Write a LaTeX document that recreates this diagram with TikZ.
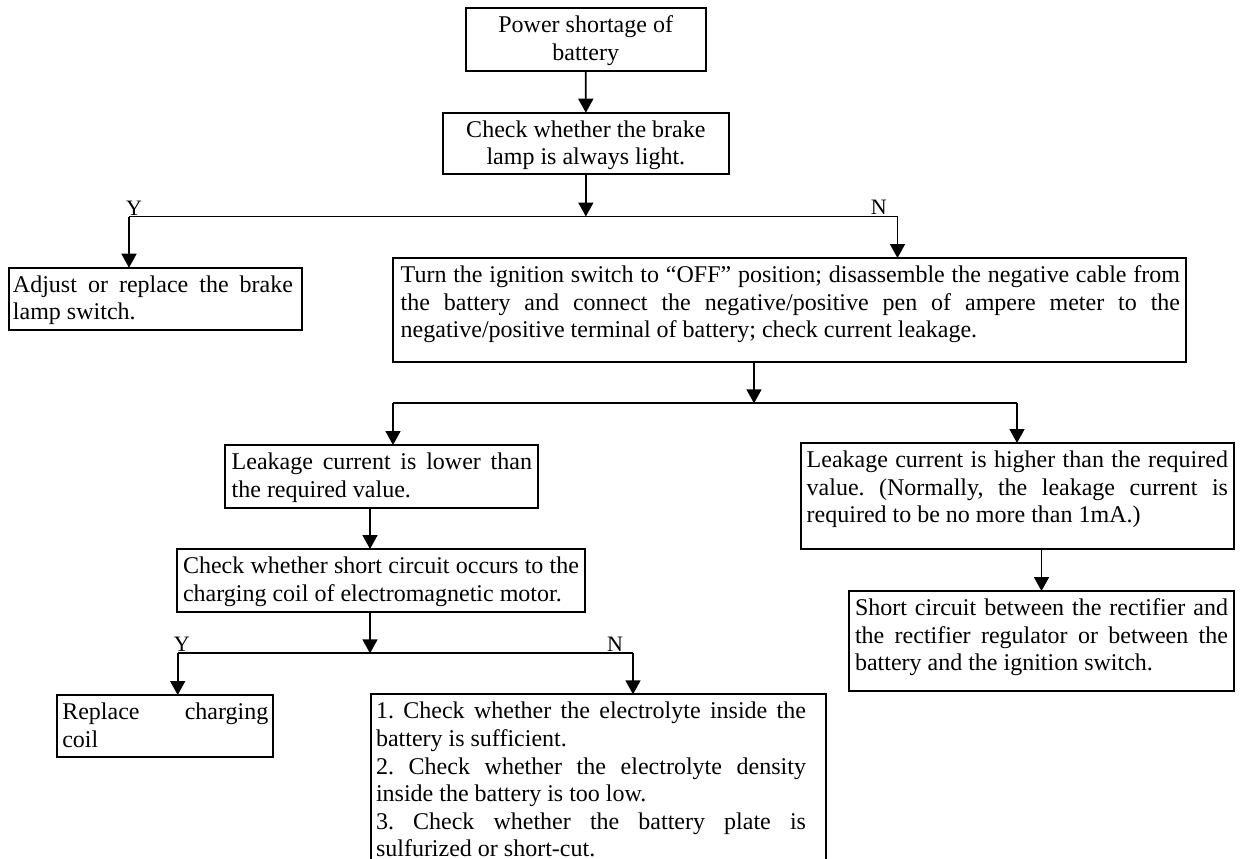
\documentclass[tikz,border=0pt]{standalone}
\usepackage{fontspec}
\setmainfont{Liberation Serif}
\usetikzlibrary{arrows.meta}
\frenchspacing
\newcommand\jl[1]{\hbox to\linewidth{\strut #1}}
\newcommand\nl[1]{\hbox{\strut #1}}
\newcommand\cl[1]{\hbox to\linewidth{\hss\strut #1\hss}}
\newcommand\bx[5]{\hbox to #1{\hskip #3\parbox[c][#2][t]{\dimexpr #1-#3-#4\relax}{\frenchspacing\vspace*{5.2pt}#5}\hss}}
\tikzset{
  bxs/.style={draw, line width=1.8pt, inner sep=0pt, outer sep=0pt, anchor=north west,
    font=\fontsize{24}{27.6}\selectfont},
  arr/.style={line width=1.7pt, -{Triangle[width=15pt,length=14pt]}},
  ln/.style={line width=1.7pt},
  lab/.style={anchor=base, inner sep=0pt, font=\fontsize{22}{26}\selectfont}
}
\begin{document}
\begin{tikzpicture}[x=1pt,y=-1pt]
\useasboundingbox (0,0) rectangle (1242,859);
\clip (0,0) rectangle (1242,859);

\node[bxs] (b1) at (465.7,8.3) {\bx{240pt}{62.4pt}{0pt}{0pt}{\cl{Power shortage of}\cl{battery}}};
\node[bxs] (b2) at (442.7,112.7) {\bx{286.3pt}{61.3pt}{0pt}{0pt}{\cl{Check whether the brake}\cl{lamp is always light.}}};
\node[bxs] (b3) at (9,267.7) {\bx{293pt}{62pt}{4pt}{9pt}{\jl{Adjust or replace the brake}\nl{lamp switch.}}};
\node[bxs] (b4) at (392.7,258) {\bx{793.3pt}{103.7pt}{8pt}{6pt}{%
  \jl{Turn the ignition switch to “OFF” position; disassemble the negative cable from}%
  \jl{the battery and connect the negative/positive pen of ampere meter to the}%
  \nl{negative/positive terminal of battery; check current leakage.}}};
\node[bxs] (b5) at (225,445) {\bx{313pt}{63pt}{6.7pt}{6pt}{\jl{Leakage current is lower than}\nl{the required value.}}};
\node[bxs] (b6) at (800.7,443) {\bx{433.3pt}{106pt}{6pt}{6pt}{%
  \jl{Leakage current is higher than the required}%
  \jl{value. (Normally, the leakage current is}%
  \nl{required to be no more than 1mA.)}}};
\node[bxs] (b7) at (177,549) {\bx{408pt}{63pt}{6pt}{6pt}{\jl{Check whether short circuit occurs to the}\nl{charging coil of electromagnetic motor.}}};
\node[bxs] (b8) at (57.3,695) {\bx{216pt}{62pt}{5pt}{5pt}{\jl{Replace charging}\nl{coil}}};
\node[bxs, font=\fontsize{24}{27.6}\selectfont] (b9) at (371,694.3) {\bx{455pt}{190pt}{5pt}{20pt}{%
  \jl{1. Check whether the electrolyte inside the}%
  \nl{battery is sufficient.}%
  \jl{2. Check whether the electrolyte density}%
  \nl{inside the battery is too low.}%
  \jl{3. Check whether the battery plate is}%
  \nl{sulfurized or short-cut.}}};
\node[bxs] (b10) at (849,591) {\bx{385pt}{100pt}{6pt}{6pt}{%
  \jl{Short circuit between the rectifier and}%
  \jl{the rectifier regulator or between the}%
  \nl{battery and the ignition switch.}}};

% junction coordinates
\coordinate (j1L) at (129,216.5);
\coordinate (j1R) at (897.5,216.5);
\coordinate (j2L) at (393,403.3);
\coordinate (j2R) at (1017,403.3);
\coordinate (j3L) at (177.7,653.3);
\coordinate (j3R) at (633,653.3);
\coordinate (x4) at (754,0);
\coordinate (x5) at (370,0);

\draw[arr] (b1.south) -- (b2.north);
\draw[arr] (b2.south) -- (b2.south |- j1L);
\draw[ln] (j1L) -- (j1R);
\draw[arr] (j1L) -- (j1L |- b3.north);
\draw[arr] (j1R) -- (j1R |- b4.north);
\node[lab] (y1) at (134,215) {Y};
\node[lab] (n1) at (878.7,214.5) {N};

\draw[arr] (b4.south -| x4) -- (x4 |- j2L);
\draw[ln] (j2L) -- (j2R);
\draw[arr] (j2L) -- (j2L |- b5.north);
\draw[arr] (j2R) -- (j2R |- b6.north);

\draw[arr] (b5.south -| x5) -- (b7.north -| x5);
\draw[arr] (b7.south -| x5) -- (x5 |- j3L);
\draw[ln] (j3L) -- (j3R);
\draw[arr] (j3L) -- (j3L |- b8.north);
\draw[arr] (j3R) -- (j3R |- b9.north);
\node[lab] (y2) at (181.7,651.5) {Y};
\node[lab] (n2) at (615,651.5) {N};

\draw[arr] (b6.south -| b10.north) -- (b10.north);
\end{tikzpicture}
\end{document}
